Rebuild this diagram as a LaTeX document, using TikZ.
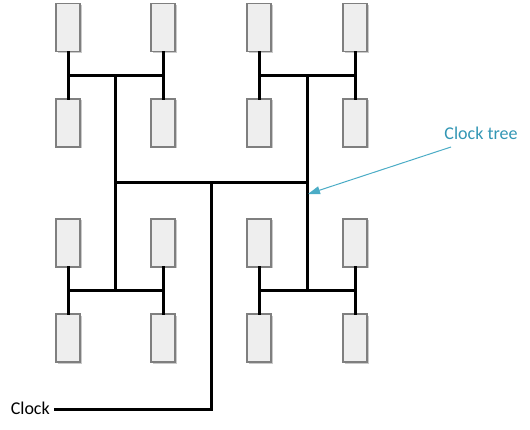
\documentclass[tikz,border=0pt]{standalone}
\usepackage{fontspec}
\setmainfont{Carlito}
\usetikzlibrary{shadows,arrows.meta}
\definecolor{boxfill}{HTML}{EEEEEE}
\definecolor{boxdraw}{HTML}{7F7F7F}
\definecolor{callout}{HTML}{4BACC6}
\definecolor{callouttext}{HTML}{3296B4}
\tikzset{
  flop/.style={draw=boxdraw, line width=1.3pt, fill=boxfill, minimum width=24pt, minimum height=48pt, inner sep=0pt,
    drop shadow={shadow xshift=1.5pt, shadow yshift=-1.5pt, fill=black!35, opacity=0.6}},
  wire/.style={line width=3pt, line cap=rect},
  lbl/.style={font=\fontsize{18}{20}\selectfont, inner sep=1pt}
}
\begin{document}
\begin{tikzpicture}[x=1pt,y=-1pt]
\useasboundingbox (0,0) rectangle (530,430);
\coordinate (tl) at (68,76);  \coordinate (tr) at (163,76);  \coordinate (tc) at (115,76);
\coordinate (bl) at (68,291); \coordinate (br) at (163,291); \coordinate (bc) at (115,291);
\coordinate (Tl) at (259,76); \coordinate (Tr) at (355,76);  \coordinate (Tc) at (307,76);
\coordinate (Bl) at (259,291);\coordinate (Br) at (355,291); \coordinate (Bc) at (307,291);
\coordinate (ml) at (115,183); \coordinate (mr) at (307,183); \coordinate (mc) at (211,183);
\coordinate (ck) at (211,409);
% flip-flops
\foreach \n/\x/\y in {a1/68/27.5, a2/163/27.5, a3/68/123, a4/163/123,
                      b1/259/27.5, b2/355/27.5, b3/259/123, b4/355/123,
                      c1/68/243, c2/163/243, c3/68/338, c4/163/338,
                      d1/259/243, d2/355/243, d3/259/338, d4/355/338}
  \node[flop] (\n) at (\x,\y) {};
% H-trees
\draw[wire] (a1.south) -- (a3.north);
\draw[wire] (a2.south) -- (a4.north);
\draw[wire] (tl) -- (tr);
\draw[wire] (b1.south) -- (b3.north);
\draw[wire] (b2.south) -- (b4.north);
\draw[wire] (Tl) -- (Tr);
\draw[wire] (c1.south) -- (c3.north);
\draw[wire] (c2.south) -- (c4.north);
\draw[wire] (bl) -- (br);
\draw[wire] (d1.south) -- (d3.north);
\draw[wire] (d2.south) -- (d4.north);
\draw[wire] (Bl) -- (Br);
% trunks
\draw[wire] (tc) -- (bc);
\draw[wire] (Tc) -- (Bc);
\draw[wire] (ml) -- (mr);
\draw[wire] (mc) -- (ck);
% clock input
\node[lbl, anchor=east] (clk) at (51,408) {Clock};
\draw[wire] (clk.east) ++(4,1) coordinate (clkend) -- (ck);
% callout
\node[lbl, text=callouttext] (ct) at (481,133) {Clock tree};
\coordinate (arrowtip) at (308,194);
\draw[callout, line width=1pt, -{Triangle[length=12pt,width=8pt]}] (451,147) -- (arrowtip);
\end{tikzpicture}
\end{document}
